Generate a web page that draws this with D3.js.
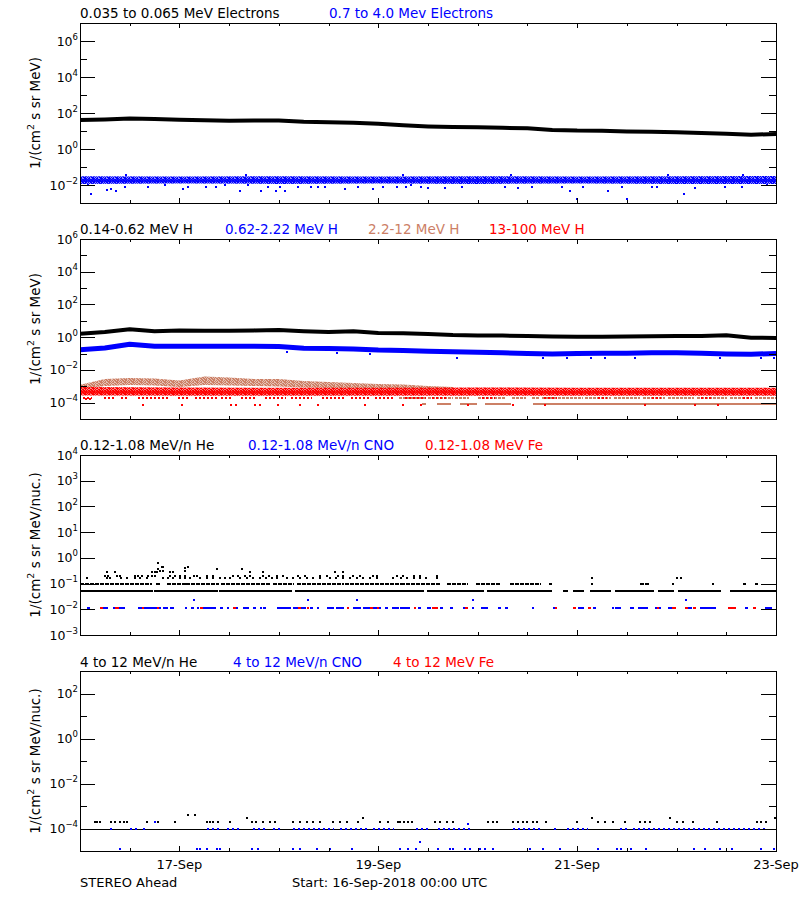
<!DOCTYPE html>
<html><head><meta charset="utf-8">
<script src="https://cdn.jsdelivr.net/npm/d3@7"></script>
<style>
body{margin:0;background:#fff;}
svg{display:block;font-family:"DejaVu Sans",sans-serif;}
</style></head><body>
<svg id="c" width="800" height="900"></svg>
<script>
// ===================== DATA =====================
// time in hours after 16-Sep-2018 00:00 UTC
const xTickLabels = ["17-Sep","19-Sep","21-Sep","23-Sep"];
const xTickHours  = [24,72,120,168];
const bandHours = [0,6,12,18,24,30,36,42,48,54,60,66,72,78,84,90,96,102,108,114,120,126,132,138,144,150,156,162,168];
const dayHours  = [0,24,48,72,96,120,144,168];
const tanHours  = [0,6,12,18,24,30,36,42,48,54,60,66,72,78,84,90];

// Panel 1 : electrons
const p1Titles = ["0.035 to 0.065 MeV Electrons","0.7 to 4.0 Mev Electrons"];
const elecLow = [41,44,50,47,42,39,37,38,38,33,31,29,25,21,18,16.5,16,15,14,11.5,10.5,10.3,9.5,9.2,8.5,7.7,7.0,6.2,6.8];
const elecHighHi = [0.031,0.030,0.031,0.030,0.031,0.030,0.031,0.032];
const elecHighLo = [0.0115,0.012,0.0115,0.012,0.0115,0.012,0.0115,0.0115];
const elecHighCore = [0.018,0.0175,0.018,0.0175,0.018,0.0175,0.018,0.018];
const elecHighOut = [[2,0.01],[2.7,0.0033],[6.4,0.0053],[7.6,0.006],[8.8,0.0046],[10.8,0.0081],[16.4,0.0081],[20.4,0.01],[24.9,0.006],[26.1,0.0081],[30.5,0.0081],[32.9,0.0081],[34.9,0.01],[38.5,0.0046],[40.5,0.01],[43.8,0.0046],[45.4,0.0081],[47.4,0.0046],[48.2,0.0081],[49.4,0.0046],[52.6,0.0081],[55.8,0.0081],[57.4,0.0081],[59.1,0.0081],[63.9,0.006],[67.1,0.0081],[70.7,0.006],[73.1,0.0081],[76.4,0.0081],[78.8,0.0081],[80,0.01],[82.4,0.0081],[84.1,0.0066],[88.1,0.007],[92.1,0.0081],[102.6,0.0081],[105.8,0.0066],[109,0.0081],[116.3,0.0081],[118.3,0.0046],[119.9,0.0016],[121.5,0.0081],[127.5,0.0046],[130.8,0.0081],[132,0.0016],[138,0.0081],[139.2,0.0081],[145.7,0.0033],[148.4,0.0066],[155.7,0.0081],[159.7,0.0081],[165.8,0.01],
  [11,0.038],[40,0.037],[78,0.036],[104,0.037],[142,0.036],[160,0.038]];

// Panel 2 : protons
const p2Titles = ["0.14-0.62 MeV H","0.62-2.22 MeV H","2.2-12 MeV H","13-100 MeV H"];
const hLow  = [1.63,2.1,3.1,2.3,2.6,2.5,2.5,2.6,2.75,2.3,2.07,2.3,1.8,1.75,1.55,1.35,1.28,1.25,1.18,1.1,1.05,1.05,1.1,1.15,1.18,1.2,1.3,0.92,0.9];
const hMid  = [0.17,0.22,0.37,0.28,0.28,0.28,0.28,0.28,0.27,0.21,0.2,0.19,0.165,0.155,0.14,0.13,0.12,0.11,0.1,0.095,0.1,0.105,0.105,0.11,0.11,0.105,0.095,0.092,0.1];
const hMidOut = [[90.9,0.053],[111.8,0.053],[117.5,0.053],[123.3,0.053],[126.7,0.053],[134,0.053],[154.5,0.053],[164.5,0.053],[167.4,0.053],[50,0.12],[62,0.11],[70,0.1]];
const hTanHi = [1.25e-3,2.8e-3,3.2e-3,3.0e-3,2.26e-3,3.95e-3,3.44e-3,2.8e-3,2.8e-3,2.1e-3,1.83e-3,1.58e-3,1.38e-3,1.28e-3,1.04e-3,9.0e-4];
const hTanLo = [6.8e-4,1.04e-3,1.2e-3,1.11e-3,9.0e-4,1.2e-3,1.11e-3,1.04e-3,9.7e-4,8.4e-4,7.85e-4,7.3e-4,6.8e-4,6.4e-4,5.9e-4,5.1e-4];
const hTanRowA = [[77,83.3],[84,89.7],[90.5,93.7],[96.1,102.6],[104.2,107.4],[109,110.6],[111.4,121.1],[122,128],[129,135],[136,141],[142,148],[149,156],[157,162],[163,168]]; // at 1.9e-4
const hTanRowB = [[82.5,83.3],[86.1,89.3],[91.7,95.7],[97.8,103.8],[109.4,168]]; // at 8.6e-5
const hHighHi = [9e-4,8.5e-4,8e-4,8e-4,8.5e-4,8e-4,8e-4,8e-4];
const hHighLo = [2.7e-4,2.6e-4,2.6e-4,2.6e-4,2.6e-4,2.6e-4,2.6e-4,2.6e-4];
const hHighCore = [4.4e-4,4.3e-4,4.3e-4,4.4e-4,4.4e-4,4.3e-4,4.4e-4,4.4e-4];
const hHighRow = [[0.7,2.7],[5.9,8.4],[10,11.6],[14,18],[18.8,21.2],[23.7,26.1],[27.7,33.3],[34.1,36.5],[38.9,42.2],[44.6,49.4],[51,55.8],[58.3,63.9],[65.5,69.5],[71.1,75.9],[78.4,83.2],[85,88],[97,100],[112,115],[125,127],[138,140],[150,152],[160,162]]; // at 1.9e-4
const hHighOut = [[15.2,7e-5],[24.5,7e-5],[36.5,7e-5],[37.7,7e-5],[42.2,7e-5],[43.4,7e-5],[47.8,7e-5],[53,7e-5],[57.4,7e-5],[68.7,7e-5],[77.9,7e-5],[82.4,7e-5],[93.7,7e-5],[104.6,7e-5],[112.2,7e-5],[136.4,7e-5],[148.4,7e-5],[154.1,7e-5],[1.5,1.6e-4],[2.5,1.6e-4]];

// Panel 3 : 0.12-1.08 MeV/n ions
const p3Titles = ["0.12-1.08 MeV/n He","0.12-1.08 MeV/n CNO","0.12-1.08 MeV Fe"];
const he3Segs05 = [[0,17.3],[17.9,33.0],[33.6,51.0],[51.8,82.9],[83.7,97.3],[98.2,113.8],[116.7,117.5],[119.1,121.5],[123.1,127.9],[129.1,138.4],[139.6,143.2],[144.4,154.5],[156.9,168]];
const he3Segs10 = [[0,17.1],[18.3,19.3],[20.9,25.3],[25.7,33.4],[34,45.9],[46.5,51.5],[52.3,63.5],[64,77.2],[77.6,86.9],[88.5,93.3],[95.7,101.4],[103.8,111],[113.2,113.6],[123.3,123.7],[135.2,137.2],[142.8,143.2],[152.5,152.9],[160.1,160.5],[162.9,163.3]];
const he3Hours17 = [1.7,6.4,7.2,10,11.3,13.3,14.5,16.1,20.1,21.3,22.5,24.1,25.3,26.6,29,30.6,32.2,33.8,35,36.2,38.6,40.2,41.8,43.4,45,46.3,47.5,49.9,51.5,53.1,54.7,56.3,57.9,60.3,61.9,63.5,65.2,66.8,68.4,70,71.6,75.6,77.5,79,80.5,82.1,83.5,86.1,123.5,144,145];
const he3Hours20 = [6.0,6.8,9.0,9.7,13.3,14.1,14.9,16.5,17.3,18.1,21.7,22.9,24.1,25.3,27.4,28.2,30.6,32.2,37,38.2,39.8,41,44.2,45.5,47.5,49.1,52.7,54.3,57.9,59.5,62.3,63.5,66,67.6,70.8,71.6,76.4,78,80.5,82,86.1];
const he3High = [[6.4,0.27],[8.4,0.27],[17.3,0.27],[18.1,0.27],[18.5,0.27],[19.3,0.3],[20.1,0.3],[21.7,0.27],[22.5,0.27],[25.3,0.3],[41,0.27],[44.2,0.27],[61.5,0.27],[63.5,0.27],[18.9,0.38],[19.7,0.45],[25.3,0.4],[26.1,0.45],[33,0.38],[39,0.38],[18.9,0.62],[20.1,0.45]];
const cno3Segs = [[1.8,2.2],[5.6,6.6],[8.0,10.5],[14.1,19.3],[20.1,20.9],[21.7,22.5],[25.3,25.7],[26.9,27.3],[28.2,28.6],[29.4,30.6],[31,32.6],[33.8,34.2],[35.4,35.8],[37,37.8],[39.4,40.6],[41.8,42.2],[43.4,43.8],[44.2,44.6],[47.5,50.7],[51.5,52.3],[52.7,54.3],[55.5,55.9],[57.1,57.5],[59.5,61.1],[61.9,63.5],[64.4,64.8],[66,67.6],[68.4,70],[70.8,72.4],[73.6,74],[75.2,76.8],[77.2,79.3],[81.7,82.1],[83.7,84.5],[86.9,87.3],[89.3,89.7],[92.5,92.9],[94.5,94.9],[96.9,98.2],[101,101.4],[102.6,103],[109,109.4],[114.2,115],[120.3,121.5],[123.9,124.3],[128.3,128.7],[129.1,129.5],[129.9,130.3],[132.7,133.5],[134.7,136.8],[138.8,140],[142,142.8],[146,146.4],[146.8,147.6],[149.7,153.3],[156.5,156.9],[160.5,160.9],[162.5,162.9],[165.3,166.9]];
const cno3High = [27.6,55.1,66.8,94.8,146.3];
const fe3Segs = [[4.8,5.2],[8.4,9.2],[14.9,15.3],[18.5,18.9],[29,29.4],[37,37.4],[52.7,53.1],[54.7,55.1],[64.4,64.8],[70,70.4],[71.6,72],[80.5,80.9],[84.9,86.1],[92.9,93.3],[114.6,115],[119.1,119.5],[122.7,123.1],[139.2,139.6],[142.8,143.6],[146,146.4],[148,148.4],[156.5,158.1],[162.5,162.9]];

// Panel 4 : 4-12 MeV/n ions
const p4Titles = ["4 to 12 MeV/n He","4 to 12 MeV/n CNO","4 to 12 MeV Fe"];
const he4Segs = [[0,168]]; // at 1e-4
const he4Hours2e4 = [3.6,4.2,4.8,7.6,8.4,9.7,10.5,11.3,16.1,18.9,22.9,30.6,31.4,32.2,33.4,36.2,41.4,42.6,44.2,45.9,47.1,51.5,53.1,54.7,56.3,57.9,61.1,62.8,64.4,67.2,72.4,74.4,76.8,77.2,78.2,79.2,80.1,85.7,86.9,88.5,90.1,98.6,99.6,100.6,104.6,105.8,107,107.8,109.4,110.2,112.6,119.9,125.1,126.7,128.7,131.5,135.2,136.4,137.6,144,145.6,148,153.7,163.3,164.5,165.7];
const he4High = [[26.1,4e-4],[27.8,4e-4],[40.2,3e-4],[68.4,3e-4],[123.5,3e-4],[142.4,3e-4],[167.8,3e-4]];
const cno4Segs = [[7.2,8],[12.1,13.7],[15.1,15.5],[30.6,33.8],[35.4,38.6],[41.8,45],[46.7,48.3],[51.5,61.1],[62.8,69.2],[70.8,75.6],[81.2,84.4],[86.5,94.4],[104.6,111],[114.3,115.1],[117.5,122.3],[130.3,131.9],[133.6,165.7]]; // at 1e-4
const cno4LowHours = [9.7,28.2,29,30.6,33,33.8,41.4,43,51.5,53.1,57.1,60.3,65.6,77.2,79.2,81.2,86.5,89.3,90.1,92.9,94.1,96.6,97.8,99.8,108.6,111.8,115.9,125.1,129.5,130.7,133.1,136.7,148.1,150.9,154.5,157.4,164.5,167.4]; // at 1.2e-5
const cno4Mid = [[82,2.5e-5],[18.1,2e-4],[93.7,1.6e-4]];

// ===================== DRAW =====================
const svg = d3.select("#c");
const X0 = 80, X1 = 776;
const x = d3.scaleLinear().domain([0,168]).range([X0,X1]);
const BLACK="#000", BLUE="#0000ff", RED="#ff0000", TAN="#cc8066";

// speckle patterns (style only) to mimic dense scatter of single-pixel points
const defs = svg.append("defs");
const speckCells = [[0,0,2],[3,0,2],[6,0,1],[1,1,2],[4,1,3],[0,2,1],[2,2,2],[5,2,2],[1,3,1],[3,3,3],[7,3,1],[0,4,2],[4,4,1],[5,4,2],[2,5,2],[5,5,1],[7,5,1]];
function speckle(id,color,op){
  const pt = defs.append("pattern").attr("id",id).attr("patternUnits","userSpaceOnUse").attr("width",8).attr("height",6);
  pt.append("rect").attr("width",8).attr("height",6).attr("fill",color).attr("fill-opacity",op);
  speckCells.forEach(c=>pt.append("rect").attr("x",c[0]).attr("y",c[1]).attr("width",c[2]).attr("height",1).attr("fill",color));
}
speckle("spBlue",BLUE,0.45); speckle("spTan",TAN,0.5); speckle("spRed",RED,0.5);

const panels = [
  {top:23, bottom:203, dom:[1e-3,1e7], major:[-2,0,2,4,6], minor:[-1,1,3,5], labels:[-2,0,2,4,6], ylab:"MeV)", tb:18,
   titles:p1Titles, tx:[80,329], tc:[BLACK,BLUE]},
  {top:239, bottom:419, dom:[1e-5,1e6], major:[-4,-2,0,2,4,6], minor:[-3,-1,1,3,5], labels:[-4,-2,0,2,4,6], ylab:"MeV)", tb:234,
   titles:p2Titles, tx:[80,225,368,489], tc:[BLACK,BLUE,TAN,RED]},
  {top:455, bottom:635, dom:[1e-3,1e4], major:[-3,-2,-1,0,1,2,3,4], minor:[], labels:[-3,-2,-1,0,1,2,3,4], ylab:"MeV/nuc.)", tb:450,
   titles:p3Titles, tx:[80,248,425], tc:[BLACK,BLUE,RED]},
  {top:671, bottom:851, dom:[1e-5,1e3], major:[-4,-2,0,2], minor:[-3,-1,1], labels:[-4,-2,0,2], ylab:"MeV/nuc.)", tb:667,
   titles:p4Titles, tx:[80,233,393], tc:[BLACK,BLUE,RED]}
];
panels.forEach(p => { p.y = d3.scaleLog().domain(p.dom).range([p.bottom,p.top]); });

function defClip(i,p){
  defs.append("clipPath").attr("id","clip"+i).append("rect")
    .attr("x",X0).attr("y",p.top).attr("width",X1-X0).attr("height",p.bottom-p.top);
}
function dots(g, y, pts, color, w=2, h=2){
  g.selectAll(null).data(pts).enter().append("rect")
    .attr("x",d=>Math.round(x(d[0])-w/2)).attr("y",d=>Math.round(y(d[1])-h/2))
    .attr("width",w).attr("height",h).attr("fill",color).attr("shape-rendering","crispEdges");
}
function segs(g, y, list, val, color, sw=2, dash=null){
  const s = g.selectAll(null).data(list).enter().append("line")
    .attr("x1",d=>x(d[0])).attr("x2",d=>x(d[1])+1)
    .attr("y1",Math.round(y(val))).attr("y2",Math.round(y(val)))
    .attr("stroke",color).attr("stroke-width",sw).attr("shape-rendering","crispEdges");
  if(dash) s.attr("stroke-dasharray",dash);
}
function band(g, y, hrs, lo, hi, fill){
  const a = d3.area().x((d,i)=>x(hrs[i])).y0((d,i)=>y(lo[i])).y1((d,i)=>y(hi[i]));
  g.append("path").attr("d",a(lo)).attr("fill",fill);
}
function thick(g, y, hrs, vals, color, sw, op=1){
  const l = d3.line().x((d,i)=>x(hrs[i])).y(d=>y(d));
  g.append("path").attr("d",l(vals)).attr("fill","none").attr("stroke",color).attr("stroke-width",sw)
    .attr("stroke-opacity",op).attr("stroke-linejoin","round");
}

panels.forEach((p,i)=>{
  defClip(i,p);
  const g = svg.append("g").attr("clip-path",`url(#clip${i})`);
  const y = p.y;
  if(i===0){
    thick(g,y,bandHours,elecLow,BLACK,4);
    band(g,y,dayHours,elecHighLo,elecHighHi,"url(#spBlue)");
    thick(g,y,dayHours,elecHighCore,BLUE,3,0.85);
    dots(g,y,elecHighOut,BLUE);
  }
  if(i===1){
    thick(g,y,bandHours,hLow,BLACK,4);
    thick(g,y,bandHours,hMid,BLUE,5);
    dots(g,y,hMidOut,BLUE);
    band(g,y,tanHours,hTanLo,hTanHi,"url(#spTan)");
    segs(g,y,hTanRowA,1.9e-4,TAN,2,"3,1");
    segs(g,y,hTanRowB,8.6e-5,TAN,2);
    band(g,y,dayHours,hHighLo,hHighHi,"url(#spRed)");
    thick(g,y,dayHours,hHighCore,RED,3,0.8);
    segs(g,y,hHighRow,1.9e-4,RED,2,"2,2");
    dots(g,y,hHighOut,RED);
  }
  if(i===2){
    segs(g,y,he3Segs05,0.05,BLACK,2);
    segs(g,y,he3Segs10,0.1,BLACK,2,"4,1");
    dots(g,y,he3Hours17.map(h=>[h,0.17]),BLACK);
    dots(g,y,he3Hours20.map(h=>[h,0.2]),BLACK);
    dots(g,y,he3High,BLACK);
    segs(g,y,cno3Segs,0.0115,BLUE,2);
    dots(g,y,cno3High.map(h=>[h,0.023]),BLUE);
    segs(g,y,fe3Segs,0.0115,RED,2);
  }
  if(i===3){
    segs(g,y,he4Segs,1e-4,BLACK,1);
    dots(g,y,he4Hours2e4.map(h=>[h,2e-4]),BLACK);
    dots(g,y,he4High,BLACK);
    segs(g,y,cno4Segs,1e-4,BLUE,2,"2,3");
    dots(g,y,cno4LowHours.map(h=>[h,1.2e-5]),BLUE);
    dots(g,y,cno4Mid,BLUE);
  }

  // frame
  svg.append("rect").attr("x",X0+0.5).attr("y",p.top+0.5).attr("width",X1-X0).attr("height",p.bottom-p.top)
    .attr("fill","none").attr("stroke","#000").attr("stroke-width",1);

  // y ticks
  const ax = svg.append("g").attr("stroke","#000").attr("stroke-width",1).attr("shape-rendering","crispEdges");
  p.major.forEach(e=>{
    const yy = Math.round(y(Math.pow(10,e)))+0.5;
    ax.append("line").attr("x1",X0).attr("x2",X0+15).attr("y1",yy).attr("y2",yy);
    ax.append("line").attr("x1",X1).attr("x2",X1-15).attr("y1",yy).attr("y2",yy);
  });
  p.minor.forEach(e=>{
    const yy = Math.round(y(Math.pow(10,e)))+0.5;
    ax.append("line").attr("x1",X0).attr("x2",X0+7).attr("y1",yy).attr("y2",yy);
    ax.append("line").attr("x1",X1).attr("x2",X1-7).attr("y1",yy).attr("y2",yy);
  });
  // x ticks every 12 h
  d3.range(0,169,12).forEach(h=>{
    const len = xTickHours.includes(h) ? 5 : 3;
    const xx = Math.round(x(h))+0.5;
    ax.append("line").attr("x1",xx).attr("x2",xx).attr("y1",p.bottom).attr("y2",p.bottom-len);
    ax.append("line").attr("x1",xx).attr("x2",xx).attr("y1",p.top).attr("y2",p.top+len);
  });
  // y tick labels
  p.labels.forEach(e=>{
    const yy = y(Math.pow(10,e));
    const t = svg.append("text").attr("x",78).attr("y",yy+4.5).attr("text-anchor","end")
      .attr("font-size",12.5).attr("fill","#000");
    t.append("tspan").text("10");
    t.append("tspan").attr("dy",-6).attr("font-size",8.5).text(e<0 ? "\u2212"+(-e) : String(e));
  });
  // y title
  const cy = (p.top+p.bottom)/2;
  const yt = svg.append("text").attr("transform",`translate(39.5,${cy}) rotate(-90)`)
    .attr("text-anchor","middle").attr("font-size",13.5).attr("fill","#000");
  yt.append("tspan").text("1/(cm");
  yt.append("tspan").attr("dy",-6).attr("font-size",9.5).text("2");
  yt.append("tspan").attr("dy",6).text(" s sr "+p.ylab);
  // titles
  p.titles.forEach((s,k)=>{
    svg.append("text").attr("x",p.tx[k]).attr("y",p.tb).attr("font-size",13.5).attr("fill",p.tc[k]).text(s);
  });
});

// bottom axis labels
xTickHours.forEach((h,k)=>{
  svg.append("text").attr("x",x(h)).attr("y",868.5).attr("text-anchor","middle")
    .attr("font-size",13).attr("fill","#000").text(xTickLabels[k]);
});
svg.append("text").attr("x",80).attr("y",887).attr("font-size",13).text("STEREO Ahead");
svg.append("text").attr("x",292).attr("y",887).attr("font-size",13).text("Start: 16-Sep-2018 00:00 UTC");
</script>
</body></html>
